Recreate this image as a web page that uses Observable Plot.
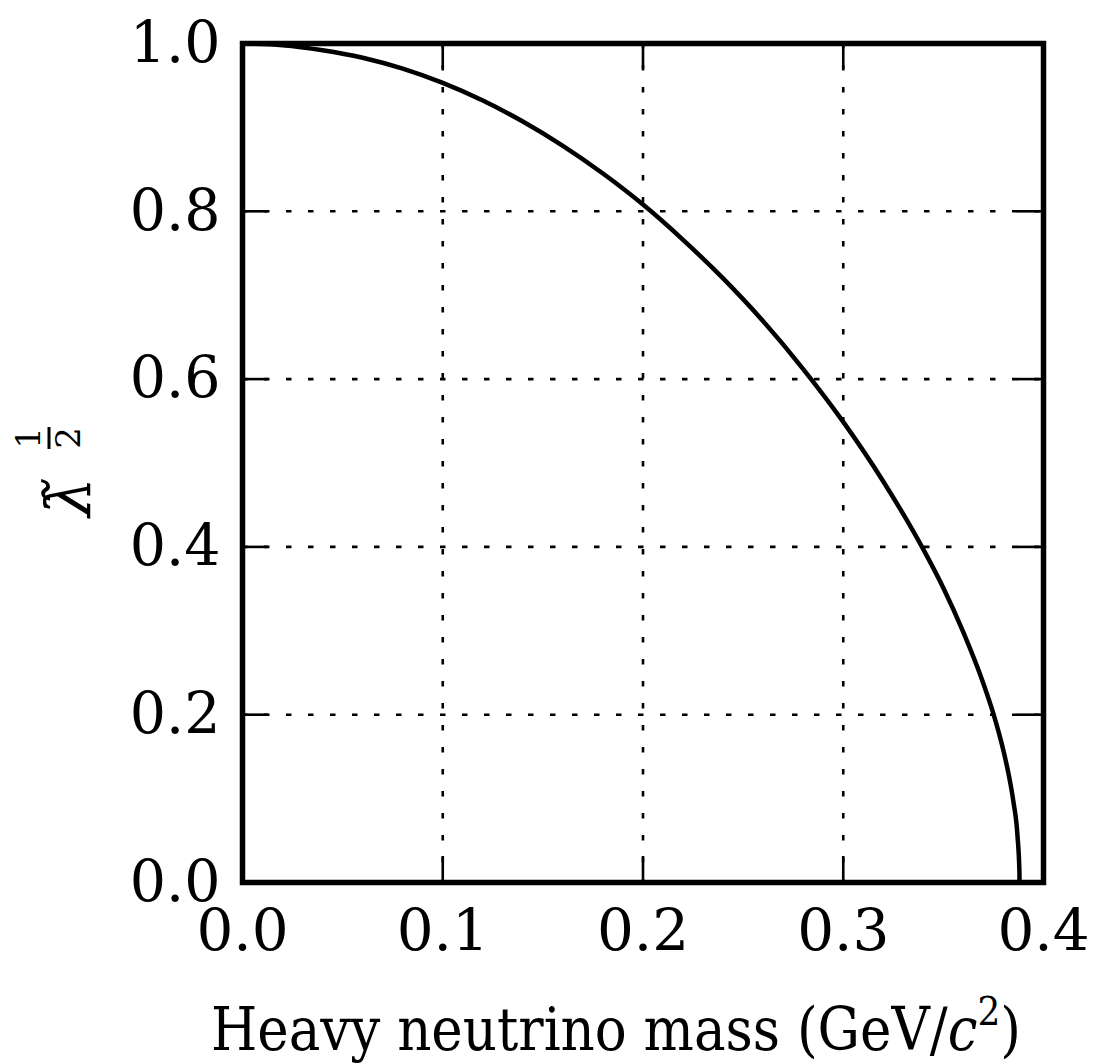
<!DOCTYPE html>
<html>
<head>
<meta charset="utf-8">
<script src="https://cdn.jsdelivr.net/npm/d3@7"></script>
<script src="https://cdn.jsdelivr.net/npm/@observablehq/plot@0.6"></script>
<style>
  html, body { margin: 0; padding: 0; background: #fff; }
  svg { display: block; }
</style>
</head>
<body>
<div id="chart"></div>
<script>
// Heavy neutrino mass (GeV/c^2)
const massValues = [0, 0.02, 0.04, 0.06, 0.08, 0.10, 0.12, 0.14, 0.16, 0.18, 0.20, 0.22, 0.24, 0.26, 0.28, 0.30, 0.32, 0.34, 0.35, 0.36, 0.37, 0.375, 0.38, 0.383, 0.385, 0.387, 0.388, 0.388];
// lambda-tilde^(1/2)
const lambdaValues = [1.000, 0.998, 0.992, 0.983, 0.970, 0.953, 0.932, 0.907, 0.878, 0.845, 0.808, 0.766, 0.720, 0.669, 0.612, 0.549, 0.478, 0.397, 0.351, 0.298, 0.237, 0.201, 0.157, 0.124, 0.096, 0.056, 0.011, 0.000];
const xTicks = [0.0, 0.1, 0.2, 0.3, 0.4];
const yTicks = [0.0, 0.2, 0.4, 0.6, 0.8, 1.0];

const curve = massValues.map((m, i) => ({m, v: lambdaValues[i]}));

const W = 1094, H = 1064;
const mL = 242, mT = 43, mR = 51, mB = 182;
const plotW = W - mL - mR, plotH = H - mT - mB;
const TICK = 26;
const serif = "'DejaVu Serif', serif";

const chart = Plot.plot({
  width: W,
  height: H,
  marginLeft: mL,
  marginRight: mR,
  marginTop: mT,
  marginBottom: mB,
  style: {background: "#fff", color: "#000"},
  x: {domain: [0, 0.4]},
  y: {domain: [0, 1]},
  marks: [
    Plot.gridX(xTicks, {stroke: "#000", strokeOpacity: 1, strokeWidth: 2.6, strokeDasharray: "5.5,16.5"}),
    Plot.gridY(yTicks, {stroke: "#000", strokeOpacity: 1, strokeWidth: 2.6, strokeDasharray: "5.5,16.5"}),
    // inward ticks on all four sides
    Plot.tickX(xTicks, {x: d => d, stroke: "#000", strokeWidth: 2.6, insetTop: plotH - TICK}),
    Plot.tickX(xTicks, {x: d => d, stroke: "#000", strokeWidth: 2.6, insetBottom: plotH - TICK}),
    Plot.tickY(yTicks, {y: d => d, stroke: "#000", strokeWidth: 2.6, insetRight: plotW - TICK}),
    Plot.tickY(yTicks, {y: d => d, stroke: "#000", strokeWidth: 2.6, insetLeft: plotW - TICK}),
    Plot.line(curve, {x: "m", y: "v", stroke: "#000", strokeWidth: 4.5, curve: "monotone-x"}),
    Plot.axisX(xTicks, {anchor: "bottom", tickSize: 0, tickPadding: 26, tickFormat: d3.format(".1f"),
      fontSize: 58, fontFamily: serif, label: null}),
    Plot.axisY(yTicks, {anchor: "left", tickSize: 0, tickPadding: 22, tickFormat: d3.format(".1f"),
      fontSize: 57, fontFamily: serif, label: null}),
    Plot.frame({stroke: "#000", strokeWidth: 5.5})
  ]
});

const svg = d3.select(chart);

// x axis label
const xl = svg.append("text")
  .attr("x", 616)
  .attr("y", 1050)
  .attr("text-anchor", "middle")
  .attr("font-family", serif)
  .style("font-stretch", "condensed")
  .attr("font-size", 59)
  .attr("fill", "#000");
xl.append("tspan").text("Heavy neutrino mass (GeV/");
xl.append("tspan").attr("font-style", "italic").text("c");
xl.append("tspan").attr("font-size", 40).attr("dy", -25).text("2");
xl.append("tspan").attr("dy", 25).text(")");

// y axis label: lambda-tilde with superscript fraction 1/2, rotated
const yl = svg.append("g").attr("transform", "translate(90,497) rotate(-90)")
  .attr("font-family", serif).attr("fill", "#000");
yl.append("text").attr("x", 0).attr("y", 0).attr("font-size", 62).attr("font-style", "italic")
  .text("λ̃");
yl.append("text").attr("x", 59).attr("y", -50).attr("font-size", 34).attr("text-anchor", "middle").text("1");
yl.append("line").attr("x1", 48).attr("x2", 70).attr("y1", -41).attr("y2", -41)
  .attr("stroke", "#000").attr("stroke-width", 3);
yl.append("text").attr("x", 59).attr("y", -10).attr("font-size", 34).attr("text-anchor", "middle").text("2");

document.getElementById("chart").appendChild(chart);
</script>
</body>
</html>
